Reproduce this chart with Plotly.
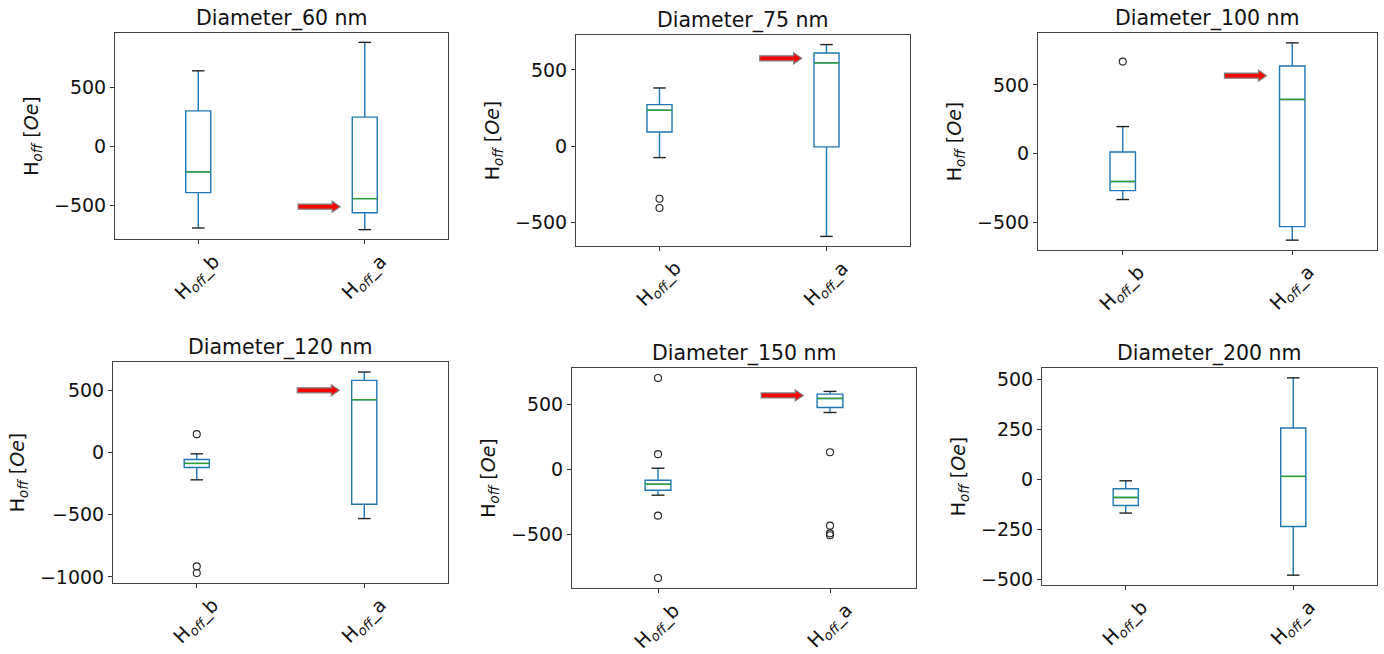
import plotly.graph_objects as go

# ---------------- data ----------------
titles = ["Diameter_60 nm", "Diameter_75 nm", "Diameter_100 nm",
          "Diameter_120 nm", "Diameter_150 nm", "Diameter_200 nm"]
tick_labels = ["H<sub><i>off</i></sub>_b", "H<sub><i>off</i></sub>_a"]
y_label = "H<sub><i>off</i></sub> [<i>Oe</i>]"

# per panel: [H_off_b, H_off_a]
q1 = [[-389, -558], [94, -4], [-268, -530], [-121, -416], [-159, 477], [-130, -235]]
median = [[-214, -439], [236, 546], [-202, 394], [-88, 424], [-113, 546], [-90, 15]]
q3 = [[301, 248], [273, 611], [12, 637], [-56, 579], [-82, 579], [-47, 257]]
lower_whisker = [[-687, -701], [-74, -590], [-333, -628], [-220, -531], [-197, 438], [-168, -478]]
upper_whisker = [[639, 879], [382, 666], [197, 805], [-11, 646], [10, 600], [-7, 507]]
outliers = [
    [[], []],
    [[-343, -404], []],
    [[669], []],
    [[147, -915, -968], []],
    [[703, 118, -354, -833], [133, -431, -490, -505]],
    [[], []],
]
arrow_y = [-507, 576, 567, 499, 569, None]
tick_step = [500, 500, 500, 500, 500, 250]

# ---------------- layout config ----------------
W, H = 1384, 654
# panel pixel boxes: (left, right, top, bottom)
panels_px = [
    (115, 448, 33, 239), (576, 910, 35, 246), (1038, 1377, 33, 250),
    (113, 448, 362, 583), (572, 916, 368, 588), (1042, 1377, 368, 585),
]
positions = [1, 2]
BOX_W = 0.15
CAP_W = 0.075
ARROW_X0 = 1.60
ARROW_PATH = "M 0,-2.5 L 34,-2.5 L 34,-5.5 L 42,0 L 34,5.5 L 34,2.5 L 0,2.5 Z"
FONT = "DejaVu Sans"
FS_TICK = 19
FS_TITLE = 20.5
FS_YLAB = 19
BLUE, GREEN = "#1f77b4", "#2ca02c"

fig = go.Figure()
annotations = []
shapes = []
layout_axes = {}

for p in range(6):
    n = p + 1
    xa = "x" if n == 1 else f"x{n}"
    ya = "y" if n == 1 else f"y{n}"
    l, r, t, b = panels_px[p]
    xd = [l / W, r / W]
    yd = [1 - b / H, 1 - t / H]

    allv = []
    for i, pos in enumerate(positions):
        fig.add_trace(go.Box(
            x=[pos], q1=[q1[p][i]], median=[median[p][i]], q3=[q3[p][i]],
            lowerfence=[lower_whisker[p][i]], upperfence=[upper_whisker[p][i]],
            width=BOX_W, whiskerwidth=0, boxpoints=False,
            line=dict(color=BLUE, width=1.4), fillcolor="rgba(0,0,0,0)",
            xaxis=xa, yaxis=ya, showlegend=False, hoverinfo="skip"))
        # caps
        fig.add_trace(go.Scatter(
            x=[pos - CAP_W / 2, pos + CAP_W / 2, None, pos - CAP_W / 2, pos + CAP_W / 2],
            y=[upper_whisker[p][i], upper_whisker[p][i], None,
               lower_whisker[p][i], lower_whisker[p][i]],
            mode="lines", line=dict(color="#222222", width=1.4),
            xaxis=xa, yaxis=ya, showlegend=False, hoverinfo="skip"))
        # median
        fig.add_trace(go.Scatter(
            x=[pos - BOX_W / 2, pos + BOX_W / 2], y=[median[p][i], median[p][i]],
            mode="lines", line=dict(color=GREEN, width=1.4),
            xaxis=xa, yaxis=ya, showlegend=False, hoverinfo="skip"))
        if outliers[p][i]:
            fig.add_trace(go.Scatter(
                x=[pos] * len(outliers[p][i]), y=outliers[p][i], mode="markers",
                marker=dict(symbol="circle-open", size=7, color="#222222",
                            line=dict(width=1.1)),
                xaxis=xa, yaxis=ya, showlegend=False, hoverinfo="skip"))
        allv += [lower_whisker[p][i], upper_whisker[p][i]] + outliers[p][i]

    lo, hi = min(allv), max(allv)
    pad = 0.05 * (hi - lo)

    layout_axes[("xaxis" if n == 1 else f"xaxis{n}")] = dict(
        domain=xd, anchor=ya, range=[0.5, 2.5], tickvals=positions,
        showticklabels=False, ticks="outside", ticklen=4, tickcolor="#333",
        showline=True, mirror=True, linecolor="#444", linewidth=1,
        showgrid=False, zeroline=False, automargin=False)
    layout_axes[("yaxis" if n == 1 else f"yaxis{n}")] = dict(
        domain=yd, anchor=xa, range=[lo - pad, hi + pad], dtick=tick_step[p],
        tick0=0, ticks="outside", ticklen=4, tickcolor="#333",
        tickfont=dict(size=FS_TICK, color="#111"),
        showline=True, mirror=True, linecolor="#444", linewidth=1,
        showgrid=False, zeroline=False, automargin=False,
        title=dict(text=y_label, font=dict(size=FS_YLAB, color="#111"), standoff=10))

    # title
    annotations.append(dict(
        text=titles[p], xref="paper", yref="paper", x=(xd[0] + xd[1]) / 2, y=yd[1],
        xanchor="center", yanchor="bottom", yshift=0, showarrow=False,
        font=dict(size=FS_TITLE, color="#111")))
    # rotated category labels
    for i, pos in enumerate(positions):
        annotations.append(dict(
            text=tick_labels[i], xref=xa, yref="paper", x=pos, y=yd[0],
            xanchor="center", yanchor="top", yshift=-8, textangle=-45,
            showarrow=False, font=dict(size=FS_TICK, color="#111")))
    # arrow (block arrow, pixel-sized, anchored in data space)
    if arrow_y[p] is not None:
        shapes.append(dict(
            type="path", path=ARROW_PATH, xref=xa, yref=ya,
            xsizemode="pixel", ysizemode="pixel",
            xanchor=ARROW_X0, yanchor=arrow_y[p],
            fillcolor="#ff0000", line=dict(color="#7f8080", width=1.2)))

fig.update_layout(
    width=W, height=H, margin=dict(l=0, r=0, t=0, b=0),
    paper_bgcolor="white", plot_bgcolor="white",
    font=dict(family=FONT, size=FS_TICK, color="#111"),
    annotations=annotations, shapes=shapes, **layout_axes)

fig.write_html("out.html", config={"displayModeBar": False},
               post_script="document.body.style.margin='0';")
